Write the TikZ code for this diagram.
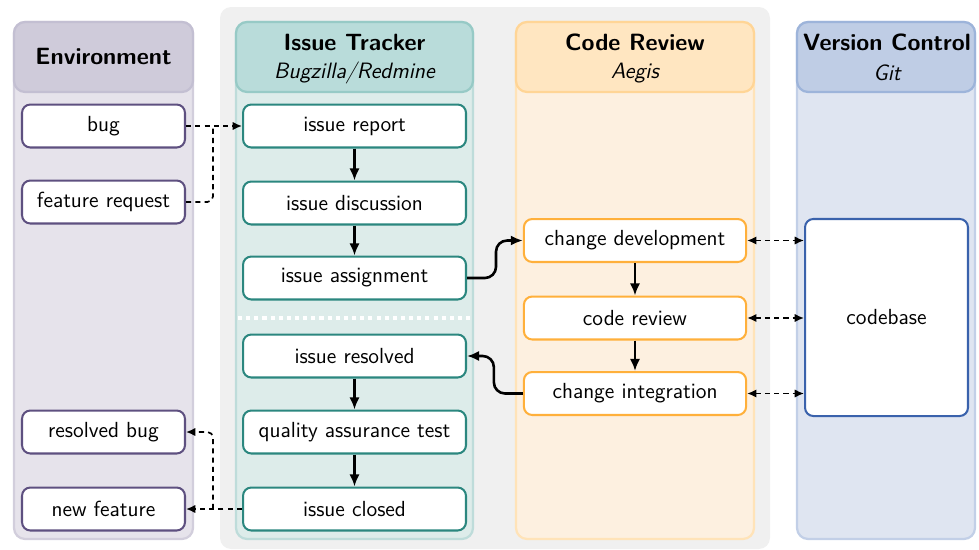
\documentclass[tikz,border=0pt]{standalone}
\usetikzlibrary{arrows.meta}
\definecolor{bggray}{HTML}{F0F0F0}
\definecolor{envhead}{HTML}{CFCBDA}
\definecolor{envheadb}{HTML}{C3BFD2}
\definecolor{envbody}{HTML}{E6E3EB}
\definecolor{envbodyb}{HTML}{D2CEDC}
\definecolor{envnode}{HTML}{5E5080}
\definecolor{trkhead}{HTML}{B9DCDA}
\definecolor{trkheadb}{HTML}{97CAC6}
\definecolor{trkbody}{HTML}{DDECEA}
\definecolor{trkbodyb}{HTML}{BEDCDA}
\definecolor{trknode}{HTML}{2B877F}
\definecolor{crhead}{HTML}{FFE6C1}
\definecolor{crheadb}{HTML}{FFD596}
\definecolor{crbody}{HTML}{FDF0E0}
\definecolor{crbodyb}{HTML}{FFE3B8}
\definecolor{crnode}{HTML}{FFB03B}
\definecolor{vchead}{HTML}{BFCDE5}
\definecolor{vcheadb}{HTML}{9DB4DA}
\definecolor{vcbody}{HTML}{DFE5F1}
\definecolor{vcbodyb}{HTML}{C2CFE7}
\definecolor{vcnode}{HTML}{3A62AC}
\tikzset{
  dtip/.tip={Latex[length=5pt,width=4.5pt]},
  box/.style={draw, line width=1.1pt, fill=white, rounded corners=4.5pt, font=\sffamily\fontsize{11.8}{14}\selectfont, minimum height=23.2pt, inner sep=0pt},
  envbox/.style={box, draw=envnode, minimum width=88pt},
  trkbox/.style={box, draw=trknode, minimum width=120.4pt},
  crbox/.style={box, draw=crnode, minimum width=120pt},
  vcbox/.style={box, draw=vcnode, minimum width=88pt},
  solarr/.style={line width=1.4pt, -{Latex[length=6.5pt,width=5.5pt]}},
  dsharr/.style={line width=0.9pt, dash pattern=on 2.8pt off 2.2pt},
  lanebody/.style={line width=1.2pt, rounded corners=6pt},
  title/.style={font=\sffamily\bfseries\fontsize{12.7}{15}\selectfont, inner sep=0pt},
  subtitle/.style={font=\sffamily\itshape\fontsize{12}{14}\selectfont, inner sep=0pt},
}
\begin{document}
\begin{tikzpicture}[x=0.54pt, y=-0.54pt]
\useasboundingbox (0,0) rectangle (979,549);
% background group
\fill[bggray, rounded corners=6pt] (220,7) rectangle (770,549);
% Environment lane
\draw[lanebody, fill=envbody, draw=envbodyb] (14,22) rectangle (193,539);
\draw[lanebody, fill=envhead, draw=envheadb] (14,22) rectangle (193,92);
\node[title] (tenv) at (103.5,57) {Environment};
% Issue tracker lane
\draw[lanebody, fill=trkbody, draw=trkbodyb] (236,22) rectangle (473,539);
\draw[lanebody, fill=trkhead, draw=trkheadb] (236,22) rectangle (473,92);
\node[title] (ttrk) at (354.5,42) {Issue Tracker};
\node[subtitle] (strk) at (354.5,73) {Bugzilla/Redmine};
% Code review lane
\draw[lanebody, fill=crbody, draw=crbodyb] (516,22) rectangle (754,539);
\draw[lanebody, fill=crhead, draw=crheadb] (516,22) rectangle (754,92);
\node[title] (tcr) at (635,42) {Code Review};
\node[subtitle] (scr) at (635,73) {Aegis};
% Version control lane
\draw[lanebody, fill=vcbody, draw=vcbodyb] (797,22) rectangle (975,539);
\draw[lanebody, fill=vchead, draw=vcheadb] (797,22) rectangle (975,92);
\node[title] (tvc) at (887,42) {Version Control};
\node[subtitle] (svc) at (887,73) {Git};
% dotted separator
\draw[white, line width=2.6pt, dash pattern=on 2.2pt off 2.2pt] (238,318) -- (472,318);
% nodes
\node[envbox] (bug) at (103.5,126) {bug};
\node[envbox] (fr) at (103.5,202) {feature request};
\node[envbox] (rb) at (103.5,432) {resolved bug};
\node[envbox] (nf) at (103.5,509) {new feature};
\node[trkbox] (ir) at (354.5,126) {issue report};
\node[trkbox] (id) at (354.5,203) {issue discussion};
\node[trkbox] (ia) at (354.5,278) {issue assignment};
\node[trkbox] (irs) at (354.5,356) {issue resolved};
\node[trkbox] (qa) at (354.5,432) {quality assurance test};
\node[trkbox] (ic) at (354.5,509) {issue closed};
\node[crbox] (cd) at (635,240.5) {change development};
\node[crbox] (cr) at (635,318) {code review};
\node[crbox] (ci) at (635,393.5) {change integration};
\node[vcbox, minimum height=106.4pt] (cb) at (886.5,317.5) {codebase};
% junction coordinates
\coordinate (j1) at (213,126);
\coordinate (j2) at (213,509);
% solid arrows
\draw[solarr] (ir) -- (id);
\draw[solarr] (id) -- (ia);
\draw[solarr] (irs) -- (qa);
\draw[solarr] (qa) -- (ic);
\draw[solarr] (cd) -- (cr);
\draw[solarr] (cr) -- (ci);
\draw[solarr, rounded corners=6pt] (ia.east) -- ++(29,0) |- (cd.west);
\draw[solarr, rounded corners=6pt] (ci.west) -- ++(-29,0) |- (irs.east);
% dashed connectors
\draw[dsharr, -dtip] (bug.east) -- (ir.west);
\draw[dsharr, rounded corners=3pt] (fr.east) -| (j1);
\draw[dsharr, -dtip] (ic.west) -- (nf.east);
\draw[dsharr, -dtip, rounded corners=3pt] (j2) |- (rb.east);
\draw[dsharr, dtip-dtip] (cd.east) -- (cd.east -| cb.west);
\draw[dsharr, dtip-dtip] (cr.east) -- (cr.east -| cb.west);
\draw[dsharr, dtip-dtip] (ci.east) -- (ci.east -| cb.west);
\end{tikzpicture}
\end{document}
